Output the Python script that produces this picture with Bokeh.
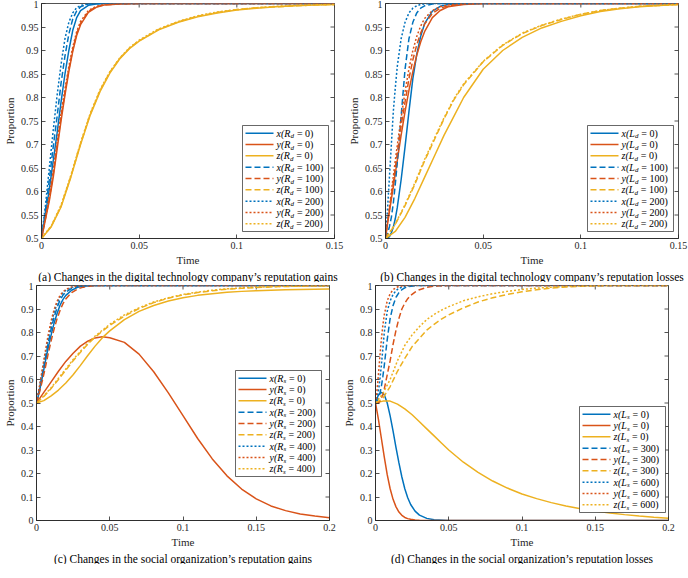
import math
from bokeh.plotting import figure
from bokeh.models import Title, Label, BoxAnnotation, Arrow, FixedTicker
from bokeh.layouts import column, row
from bokeh.embed import file_html
from bokeh.resources import INLINE

# ---------------- data ----------------
# panel (a): digital technology company's reputation gains R_d
TA_FAST = [0, 0.002, 0.004, 0.006, 0.008, 0.010, 0.012, 0.014, 0.016, 0.018, 0.020, 0.024, 0.028, 0.032, 0.040, 0.050, 0.150]
a_x0 = [0.5, 0.55, 0.605, 0.665, 0.725, 0.79, 0.85, 0.90, 0.943, 0.970, 0.985, 0.996, 0.999, 1.0, 1.0, 1.0, 1.0]
a_y0 = [0.5, 0.54, 0.58, 0.63, 0.69, 0.75, 0.805, 0.855, 0.898, 0.932, 0.955, 0.981, 0.992, 0.997, 0.999, 1.0, 1.0]
a_x100 = [0.5, 0.56, 0.625, 0.695, 0.76, 0.83, 0.888, 0.935, 0.967, 0.984, 0.993, 0.999, 1.0, 1.0, 1.0, 1.0, 1.0]
a_y100 = [0.5, 0.542, 0.585, 0.637, 0.698, 0.758, 0.811, 0.86, 0.902, 0.936, 0.958, 0.983, 0.993, 0.997, 0.999, 1.0, 1.0]
a_x200 = [0.5, 0.57, 0.65, 0.73, 0.805, 0.87, 0.925, 0.96, 0.98, 0.991, 0.996, 0.999, 1.0, 1.0, 1.0, 1.0, 1.0]
a_y200 = [0.5, 0.545, 0.59, 0.645, 0.706, 0.766, 0.818, 0.866, 0.907, 0.94, 0.962, 0.985, 0.994, 0.998, 1.0, 1.0, 1.0]
TA_SLOW = [0, 0.005, 0.01, 0.015, 0.02, 0.025, 0.03, 0.035, 0.04, 0.045, 0.05, 0.06, 0.07, 0.08, 0.09, 0.1, 0.11, 0.12, 0.13, 0.14, 0.15]
a_z0 = [0.5, 0.525, 0.567, 0.63, 0.70, 0.763, 0.813, 0.852, 0.882, 0.904, 0.92, 0.944, 0.96, 0.972, 0.98, 0.986, 0.990, 0.993, 0.995, 0.997, 0.998]
a_z100 = [0.5, 0.526, 0.569, 0.632, 0.702, 0.765, 0.815, 0.854, 0.883, 0.905, 0.921, 0.945, 0.961, 0.973, 0.981, 0.987, 0.991, 0.993, 0.995, 0.997, 0.998]
a_z200 = [0.5, 0.527, 0.571, 0.634, 0.704, 0.767, 0.817, 0.855, 0.884, 0.906, 0.922, 0.946, 0.962, 0.974, 0.982, 0.987, 0.991, 0.994, 0.996, 0.997, 0.998]

# panel (b): digital technology company's reputation losses L_d
TB_FAST = [0, 0.001, 0.002, 0.003, 0.004, 0.005, 0.006, 0.008, 0.010, 0.012, 0.014, 0.016, 0.018, 0.020, 0.024, 0.028, 0.032, 0.040, 0.050, 0.150]
b_x0 = [0.5, 0.501, 0.504, 0.512, 0.524, 0.542, 0.565, 0.625, 0.695, 0.77, 0.84, 0.892, 0.93, 0.957, 0.984, 0.994, 0.998, 1.0, 1.0, 1.0]
b_y0 = [0.5, 0.53, 0.557, 0.584, 0.61, 0.638, 0.665, 0.72, 0.77, 0.815, 0.855, 0.89, 0.918, 0.94, 0.97, 0.985, 0.993, 0.998, 1.0, 1.0]
b_x100 = [0.5, 0.51, 0.525, 0.545, 0.575, 0.615, 0.66, 0.76, 0.86, 0.925, 0.96, 0.98, 0.99, 0.995, 0.999, 1.0, 1.0, 1.0, 1.0, 1.0]
b_y100 = [0.5, 0.532, 0.562, 0.592, 0.62, 0.65, 0.68, 0.74, 0.79, 0.84, 0.88, 0.912, 0.937, 0.956, 0.979, 0.99, 0.995, 0.999, 1.0, 1.0]
b_x200 = [0.5, 0.56, 0.63, 0.70, 0.77, 0.82, 0.865, 0.925, 0.96, 0.98, 0.99, 0.995, 0.998, 0.999, 1.0, 1.0, 1.0, 1.0, 1.0, 1.0]
b_y200 = [0.5, 0.535, 0.567, 0.6, 0.632, 0.665, 0.697, 0.757, 0.812, 0.861, 0.9, 0.93, 0.952, 0.968, 0.985, 0.993, 0.997, 1.0, 1.0, 1.0]
TB_SLOW = [0, 0.005, 0.01, 0.015, 0.02, 0.025, 0.03, 0.035, 0.04, 0.05, 0.06, 0.07, 0.08, 0.09, 0.1, 0.11, 0.12, 0.13, 0.14, 0.15]
b_z0 = [0.5, 0.515, 0.545, 0.585, 0.63, 0.675, 0.72, 0.76, 0.80, 0.86, 0.90, 0.928, 0.948, 0.962, 0.974, 0.983, 0.989, 0.993, 0.996, 0.998]
b_z100 = [0.5, 0.53, 0.57, 0.615, 0.665, 0.71, 0.755, 0.795, 0.827, 0.876, 0.911, 0.936, 0.953, 0.966, 0.977, 0.985, 0.99, 0.994, 0.996, 0.998]
b_z200 = [0.5, 0.531, 0.572, 0.618, 0.668, 0.713, 0.757, 0.797, 0.829, 0.877, 0.912, 0.937, 0.954, 0.967, 0.977, 0.985, 0.99, 0.994, 0.996, 0.998]

# panel (c): social organization's reputation gains R_s
TC_FAST = [0, 0.002, 0.004, 0.006, 0.008, 0.010, 0.012, 0.014, 0.016, 0.018, 0.020, 0.024, 0.028, 0.032, 0.036, 0.040, 0.050, 0.200]
c_x0 = [0.5, 0.55, 0.61, 0.675, 0.735, 0.79, 0.84, 0.88, 0.915, 0.94, 0.958, 0.98, 0.992, 0.997, 0.999, 1.0, 1.0, 1.0]
c_x200 = [0.5, 0.56, 0.625, 0.69, 0.755, 0.815, 0.865, 0.905, 0.937, 0.958, 0.972, 0.988, 0.996, 0.999, 1.0, 1.0, 1.0, 1.0]
c_y200 = [0.5, 0.545, 0.595, 0.65, 0.71, 0.765, 0.815, 0.858, 0.893, 0.922, 0.943, 0.97, 0.985, 0.993, 0.997, 0.999, 1.0, 1.0]
c_x400 = [0.5, 0.565, 0.635, 0.705, 0.775, 0.835, 0.885, 0.922, 0.95, 0.968, 0.98, 0.992, 0.997, 0.999, 1.0, 1.0, 1.0, 1.0]
c_y400 = [0.5, 0.57, 0.645, 0.72, 0.79, 0.85, 0.897, 0.932, 0.957, 0.973, 0.983, 0.994, 0.998, 1.0, 1.0, 1.0, 1.0, 1.0]
TC_SLOW = [0, 0.005, 0.01, 0.015, 0.02, 0.025, 0.03, 0.035, 0.04, 0.045, 0.05, 0.06, 0.07, 0.08, 0.09, 0.1, 0.11, 0.12, 0.13, 0.14, 0.15, 0.16, 0.17, 0.18, 0.19, 0.2]
c_y0 = [0.5, 0.545, 0.59, 0.635, 0.677, 0.712, 0.742, 0.763, 0.777, 0.782, 0.778, 0.758, 0.708, 0.633, 0.543, 0.446, 0.349, 0.262, 0.19, 0.134, 0.092, 0.062, 0.042, 0.028, 0.019, 0.012]
c_z0 = [0.5, 0.51, 0.53, 0.555, 0.585, 0.62, 0.66, 0.702, 0.742, 0.778, 0.807, 0.855, 0.89, 0.915, 0.934, 0.948, 0.958, 0.965, 0.971, 0.975, 0.978, 0.98, 0.982, 0.983, 0.984, 0.985]
c_z200 = [0.5, 0.528, 0.562, 0.6, 0.64, 0.68, 0.716, 0.75, 0.78, 0.806, 0.83, 0.87, 0.902, 0.927, 0.946, 0.96, 0.97, 0.978, 0.984, 0.988, 0.991, 0.994, 0.996, 0.997, 0.998, 0.999]
c_z400 = [0.5, 0.53, 0.565, 0.605, 0.645, 0.685, 0.72, 0.755, 0.785, 0.81, 0.835, 0.875, 0.905, 0.93, 0.948, 0.962, 0.972, 0.98, 0.986, 0.99, 0.993, 0.995, 0.997, 0.998, 0.999, 0.999]

# panel (d): social organization's reputation losses L_s
TD_FAST = [0, 0.001, 0.002, 0.003, 0.004, 0.005, 0.006, 0.008, 0.010, 0.012, 0.014, 0.016, 0.018, 0.020, 0.022, 0.024, 0.027, 0.030, 0.035, 0.040, 0.050, 0.200]
d_x0 = [0.5, 0.52, 0.533, 0.541, 0.545, 0.543, 0.535, 0.5, 0.445, 0.38, 0.31, 0.245, 0.185, 0.135, 0.097, 0.068, 0.04, 0.023, 0.009, 0.003, 0.0, 0.0]
d_y0 = [0.5, 0.465, 0.43, 0.39, 0.35, 0.31, 0.27, 0.195, 0.135, 0.09, 0.058, 0.036, 0.022, 0.013, 0.008, 0.005, 0.002, 0.001, 0.0, 0.0, 0.0, 0.0]
d_x300 = [0.5, 0.508, 0.52, 0.54, 0.57, 0.612, 0.66, 0.77, 0.86, 0.915, 0.95, 0.97, 0.982, 0.99, 0.994, 0.997, 0.999, 1.0, 1.0, 1.0, 1.0, 1.0]
d_y300 = [0.5, 0.5, 0.5, 0.508, 0.52, 0.537, 0.56, 0.62, 0.68, 0.75, 0.81, 0.86, 0.9, 0.925, 0.944, 0.958, 0.972, 0.982, 0.992, 0.997, 1.0, 1.0]
d_x600 = [0.5, 0.52, 0.55, 0.6, 0.66, 0.73, 0.8, 0.89, 0.935, 0.962, 0.978, 0.988, 0.993, 0.996, 0.998, 0.999, 1.0, 1.0, 1.0, 1.0, 1.0, 1.0]
d_y600 = [0.5, 0.55, 0.62, 0.7, 0.77, 0.83, 0.875, 0.935, 0.965, 0.982, 0.991, 0.996, 0.998, 0.999, 1.0, 1.0, 1.0, 1.0, 1.0, 1.0, 1.0, 1.0]
TD_SLOW = [0, 0.005, 0.01, 0.015, 0.02, 0.025, 0.03, 0.035, 0.04, 0.045, 0.05, 0.06, 0.07, 0.08, 0.09, 0.1, 0.11, 0.12, 0.13, 0.14, 0.15, 0.16, 0.17, 0.18, 0.19, 0.2]
d_z0 = [0.5, 0.508, 0.508, 0.495, 0.475, 0.45, 0.42, 0.39, 0.36, 0.33, 0.3, 0.248, 0.205, 0.168, 0.138, 0.113, 0.093, 0.076, 0.062, 0.05, 0.04, 0.032, 0.025, 0.019, 0.014, 0.01]
d_z300 = [0.5, 0.52, 0.57, 0.635, 0.69, 0.74, 0.775, 0.81, 0.835, 0.857, 0.875, 0.905, 0.93, 0.948, 0.962, 0.973, 0.982, 0.989, 0.994, 0.997, 0.999, 1.0, 1.0, 1.0, 1.0, 1.0]
d_z600 = [0.5, 0.54, 0.6, 0.68, 0.745, 0.79, 0.825, 0.855, 0.877, 0.895, 0.91, 0.935, 0.952, 0.965, 0.975, 0.983, 0.989, 0.993, 0.996, 0.998, 0.999, 1.0, 1.0, 1.0, 1.0, 1.0]

# ticks and labels
AB_XTICKS = [0, 0.05, 0.1, 0.15]
AB_XLABELS = ["0", "0.05", "0.1", "0.15"]
AB_YTICKS = [0.5, 0.55, 0.6, 0.65, 0.7, 0.75, 0.8, 0.85, 0.9, 0.95, 1.0]
AB_YLABELS = ["0.5", "0.55", "0.6", "0.65", "0.7", "0.75", "0.8", "0.85", "0.9", "0.95", "1"]
CD_XTICKS = [0, 0.05, 0.1, 0.15, 0.2]
CD_XLABELS = ["0", "0.05", "0.1", "0.15", "0.2"]
CD_YTICKS = [0, 0.1, 0.2, 0.3, 0.4, 0.5, 0.6, 0.7, 0.8, 0.9, 1.0]
CD_YLABELS = ["0", "0.1", "0.2", "0.3", "0.4", "0.5", "0.6", "0.7", "0.8", "0.9", "1"]

CAPTIONS = [
    "(a) Changes in the digital technology company\u2019s reputation gains",
    "(b) Changes in the digital technology company\u2019s reputation losses",
    "(c) Changes in the social organization\u2019s reputation gains",
    "(d) Changes in the social organization\u2019s reputation losses",
]
LEVELS_A = ["0", "100", "200"]
LEVELS_B = ["0", "100", "200"]
LEVELS_C = ["0", "200", "400"]
LEVELS_D = ["0", "300", "600"]

# ---------------- style ----------------
BLUE, RED, YEL = "#0072BD", "#D95319", "#EDB120"
COLORS = {"x": BLUE, "y": RED, "z": YEL}
DASHES = ["solid", "6 3", "2 2"]
AX = "#262626"
FONT = "Liberation Serif"
FW, FH = 293, 235
ITW = {"x": 0.444, "y": 0.444, "z": 0.389, "(": 0.333, "R": 0.611, "L": 0.556, "d": 0.5, "s": 0.389}


def make_panel(xmax, ymin, xticks, xlabels, yticks, ylabels, caption):
    p = figure(frame_width=FW, frame_height=FH, x_range=(0, xmax), y_range=(ymin, 1),
               output_backend="svg", toolbar_location=None,
               min_border_left=33, min_border_right=10, min_border_top=3, min_border_bottom=43)
    p.background_fill_color = "white"
    p.border_fill_color = "white"
    p.xgrid.visible = False
    p.ygrid.visible = False
    p.outline_line_color = AX
    p.outline_line_width = 0.8
    p.outline_line_alpha = 1
    for ax, ticks, labels, lab in ((p.xaxis[0], xticks, xlabels, "Time"),
                                    (p.yaxis[0], yticks, ylabels, "Proportion")):
        ax.ticker = FixedTicker(ticks=ticks)
        ax.major_label_overrides = {t: s for t, s in zip(ticks, labels)}
        ax.axis_label = lab
        ax.axis_label_text_font = FONT
        ax.axis_label_text_font_size = "11px"
        ax.axis_label_text_font_style = "normal"
        ax.axis_label_text_color = AX
        ax.axis_label_standoff = 2
        ax.major_label_text_font = FONT
        ax.major_label_text_font_size = "10px"
        ax.major_label_text_color = AX
        ax.major_label_standoff = 3
        ax.major_tick_in = 4
        ax.major_tick_out = 0
        ax.minor_tick_line_color = None
        ax.axis_line_color = AX
        ax.axis_line_width = 0.8
        ax.major_tick_line_color = AX
        ax.major_tick_line_width = 0.8
    # ticks on the top and right edges of the box
    p.ray(x=xticks, y=[1] * len(xticks), length=4, length_units="screen",
          angle=-math.pi / 2, line_color=AX, line_width=0.8)
    p.ray(x=[xmax] * len(yticks), y=yticks, length=4, length_units="screen",
          angle=math.pi, line_color=AX, line_width=0.8)
    p.add_layout(Title(text=caption, align="center", text_font=FONT, text_font_size="11.5px",
                       text_font_style="normal", text_color="black", standoff=0), "below")
    return p


def add_curves(p, series):
    for i, (t, v, var) in enumerate(series):
        p.line(t, v, line_color=COLORS[var], line_width=1.5, line_dash=DASHES[i // 3])


def add_legend(p, sym, sub, levels, right_gap, bottom_gap):
    bw, bh, pad = 86, 106, 2.0
    left = FW - right_gap - bw
    bottom = bottom_gap
    top = bottom + bh
    p.add_layout(BoxAnnotation(left=left, right=left + bw, bottom=bottom, top=top,
                               left_units="screen", right_units="screen",
                               bottom_units="screen", top_units="screen",
                               fill_color="white", fill_alpha=1.0,
                               line_color=AX, line_width=0.7, line_alpha=1.0))
    pitch = (bh - 2 * pad) / 9.0
    k = 0
    for li, lev in enumerate(levels):
        for var in ("x", "y", "z"):
            yc = top - pad - (k + 0.5) * pitch
            p.add_layout(Arrow(x_start=left + 3, y_start=yc, x_end=left + 31, y_end=yc,
                               start_units="screen", end_units="screen", end=None,
                               line_color=COLORS[var], line_width=1.5, line_dash=DASHES[li]))
            x0 = left + 34
            main = var + "(" + sym
            wmain = sum(ITW[c] for c in main) * 10
            p.add_layout(Label(x=x0, y=yc, x_units="screen", y_units="screen", text=main,
                               text_font=FONT, text_font_style="italic", text_font_size="10px",
                               text_baseline="middle", text_align="left", text_color="black"))
            p.add_layout(Label(x=x0 + wmain + 0.2, y=yc - 3, x_units="screen", y_units="screen",
                               text=sub, text_font=FONT, text_font_style="italic",
                               text_font_size="7px", text_baseline="middle", text_align="left",
                               text_color="black"))
            wsub = ITW[sub] * 7
            p.add_layout(Label(x=x0 + wmain + wsub + 3.0, y=yc, x_units="screen", y_units="screen",
                               text="= " + lev + ")", text_font=FONT, text_font_size="10px",
                               text_baseline="middle", text_align="left", text_color="black"))
            k += 1


pa = make_panel(0.15, 0.5, AB_XTICKS, AB_XLABELS, AB_YTICKS, AB_YLABELS, CAPTIONS[0])
add_curves(pa, [(TA_FAST, a_x0, "x"), (TA_FAST, a_y0, "y"), (TA_SLOW, a_z0, "z"),
                (TA_FAST, a_x100, "x"), (TA_FAST, a_y100, "y"), (TA_SLOW, a_z100, "z"),
                (TA_FAST, a_x200, "x"), (TA_FAST, a_y200, "y"), (TA_SLOW, a_z200, "z")])
add_legend(pa, "R", "d", LEVELS_A, 6, 7)

pb = make_panel(0.15, 0.5, AB_XTICKS, AB_XLABELS, AB_YTICKS, AB_YLABELS, CAPTIONS[1])
add_curves(pb, [(TB_FAST, b_x0, "x"), (TB_FAST, b_y0, "y"), (TB_SLOW, b_z0, "z"),
                (TB_FAST, b_x100, "x"), (TB_FAST, b_y100, "y"), (TB_SLOW, b_z100, "z"),
                (TB_FAST, b_x200, "x"), (TB_FAST, b_y200, "y"), (TB_SLOW, b_z200, "z")])
add_legend(pb, "L", "d", LEVELS_B, 5, 7)

pc = make_panel(0.2, 0.0, CD_XTICKS, CD_XLABELS, CD_YTICKS, CD_YLABELS, CAPTIONS[2])
add_curves(pc, [(TC_FAST, c_x0, "x"), (TC_SLOW, c_y0, "y"), (TC_SLOW, c_z0, "z"),
                (TC_FAST, c_x200, "x"), (TC_FAST, c_y200, "y"), (TC_SLOW, c_z200, "z"),
                (TC_FAST, c_x400, "x"), (TC_FAST, c_y400, "y"), (TC_SLOW, c_z400, "z")])
add_legend(pc, "R", "s", LEVELS_C, 8, 44)

pd_ = make_panel(0.2, 0.0, CD_XTICKS, CD_XLABELS, CD_YTICKS, CD_YLABELS, CAPTIONS[3])
add_curves(pd_, [(TD_FAST, d_x0, "x"), (TD_FAST, d_y0, "y"), (TD_SLOW, d_z0, "z"),
                 (TD_FAST, d_x300, "x"), (TD_FAST, d_y300, "y"), (TD_SLOW, d_z300, "z"),
                 (TD_FAST, d_x600, "x"), (TD_FAST, d_y600, "y"), (TD_SLOW, d_z600, "z")])
add_legend(pd_, "L", "s", LEVELS_D, 3, 8)

layout = column(row(pa, pb), row(pc, pd_))
open("out.html", "w").write(file_html(layout, INLINE))
